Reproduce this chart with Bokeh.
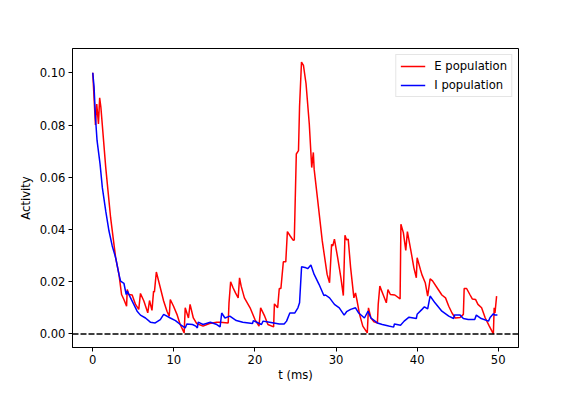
from bokeh.plotting import figure
from bokeh.models import Range1d, FixedTicker, PrintfTickFormatter, Span, Legend, LegendItem
from bokeh.embed import file_html
from bokeh.resources import INLINE

t_e = [0, 0.33, 0.49, 0.7, 0.85, 1.0, 1.6, 2.2, 2.82, 3.23, 3.55, 3.84, 4.17, 4.25, 4.45, 4.86,
       5.27, 5.67, 5.88, 6.3, 6.78, 7.0, 7.3, 7.5, 7.6, 7.84, 8.33, 8.74, 9.15, 9.43, 9.56, 9.96,
       10.38, 10.78, 11.27, 11.4, 11.8, 12.0, 12.4, 12.8, 13.6, 14.4, 15.3, 15.7, 16.7, 16.8, 17.0,
       17.3, 17.6, 17.93, 18.1, 18.3, 18.7, 19.4, 20.0, 20.5, 20.7, 21.2, 21.6, 22.3, 22.4, 22.8,
       23.0, 23.2, 23.5, 23.8, 24.0, 24.35, 24.7, 24.85, 25.1, 25.37, 25.5, 25.74, 25.98, 26.3,
       26.7, 27.0, 27.2, 27.3, 27.7, 28.3, 28.9, 29.2, 29.45, 29.6, 29.8, 30.2, 30.6, 30.9, 31.1,
       31.3, 31.5, 31.8, 32.2, 32.4, 32.6, 32.9, 33.3, 33.85, 34.0, 34.3, 34.7, 35.1, 35.2, 35.4,
       35.8, 36.2, 36.4, 36.7, 37.25, 37.9, 38.0, 38.3, 38.6, 38.8, 39.2, 39.6, 39.9, 40.0, 40.4,
       40.6, 41.0, 41.3, 41.6, 41.9, 42.6, 43.05, 43.5, 43.9, 44.3, 44.7, 45.3, 45.7, 45.8, 46.1,
       46.5, 46.8, 47.2, 47.5, 47.95, 48.4, 48.9, 49.4, 49.5, 49.6, 49.8]
e_vals = [0.100, 0.080, 0.088, 0.0804, 0.0904, 0.0868, 0.0637, 0.0445, 0.0292, 0.0228, 0.0151,
          0.0132, 0.0106, 0.0170, 0.0151, 0.0149, 0.0113, 0.0094, 0.0155, 0.0126, 0.0081, 0.0128,
          0.0090, 0.0164, 0.0160, 0.0237, 0.0177, 0.0126, 0.0087, 0.0068, 0.0132, 0.0106, 0.0075,
          0.0036, 0.0004, 0.0100, 0.0061, 0.0113, 0.0061, 0.0040, 0.0030, 0.0040, 0.0045, 0.0045,
          0.0042, 0.0119, 0.0200, 0.0177, 0.0157, 0.0138, 0.0215, 0.0183, 0.0138, 0.0100, 0.0055,
          0.0030, 0.0100, 0.0068, 0.0036, 0.0027, 0.0115, 0.0100, 0.0174, 0.0174, 0.0276, 0.0276,
          0.0392, 0.0375, 0.0359, 0.0360, 0.0689, 0.0702, 0.0871, 0.1041, 0.1028, 0.0958, 0.0804,
          0.0637, 0.0695, 0.0631, 0.0522, 0.0356, 0.0228, 0.0196, 0.0343, 0.0337, 0.0363, 0.0292,
          0.0215, 0.0147, 0.0378, 0.0360, 0.0363, 0.0253, 0.0138, 0.0157, 0.0126, 0.0075, 0.0030,
          0.0004, 0.0100, 0.0061, 0.0046, 0.0042, 0.0113, 0.0183, 0.0151, 0.0119, 0.0170, 0.0151,
          0.0149, 0.0134, 0.0420, 0.0388, 0.0320, 0.0392, 0.0324, 0.0253, 0.0215, 0.0292, 0.0247,
          0.0226, 0.0196, 0.0145, 0.0211, 0.0203, 0.0170, 0.0149, 0.0138, 0.0106, 0.0080, 0.0061,
          0.0063, 0.0075, 0.0174, 0.0174, 0.0151, 0.0134, 0.0132, 0.0113, 0.0100, 0.0061, 0.0030,
          0.0000, 0.0100, 0.0080, 0.0145]

t_i = [0, 0.16, 0.33, 0.53, 0.9, 1.18, 1.6, 2.0, 2.4, 2.82, 3.23, 3.43, 3.84, 4.12, 4.25, 5.06,
       5.47, 5.88, 6.5, 7.1, 7.7, 8.33, 8.74, 9.56, 10.2, 10.8, 11.4, 11.6, 12.3, 12.7, 12.9, 13.0,
       13.6, 14.5, 15.3, 15.7, 15.9, 16.3, 16.9, 17.7, 18.5, 19.7, 19.8, 20.8, 21.0, 21.8, 23.0,
       23.6, 23.9, 24.3, 24.9, 25.3, 25.5, 25.75, 26.3, 26.5, 26.9, 27.3, 27.9, 28.5, 28.7, 29.2,
       29.8, 30.4, 31.0, 31.3, 31.8, 32.4, 32.8, 33.5, 33.95, 34.3, 35.1, 35.7, 36.5, 37.1, 37.2,
       37.95, 38.4, 39.0, 39.9, 40.0, 40.6, 40.9, 41.3, 41.6, 42.2, 43.05, 43.9, 44.5, 44.6, 45.3,
       45.7, 46.3, 47.1, 47.3, 47.9, 48.8, 49.0, 49.4, 49.6, 49.9]
i_vals = [0.100, 0.0945, 0.083, 0.074, 0.065, 0.056, 0.047, 0.0394, 0.0337, 0.0292, 0.0228,
          0.0202, 0.0194, 0.0151, 0.0164, 0.0113, 0.0087, 0.0072, 0.0061, 0.0045, 0.0042, 0.0055,
          0.0075, 0.0061, 0.0051, 0.0036, 0.0023, 0.0038, 0.0036, 0.0030, 0.0023, 0.0045, 0.0036,
          0.0045, 0.0036, 0.0027, 0.0080, 0.0061, 0.0068, 0.0051, 0.0045, 0.0040, 0.0051, 0.0036,
          0.0049, 0.0045, 0.0038, 0.0038, 0.0049, 0.0080, 0.0080, 0.0100, 0.0119, 0.0257, 0.0253,
          0.0250, 0.0264, 0.0228, 0.0190, 0.0147, 0.0149, 0.0138, 0.0113, 0.0100, 0.0072, 0.0085,
          0.0094, 0.0100, 0.0080, 0.0061, 0.0087, 0.0061, 0.0042, 0.0036, 0.0030, 0.0026, 0.0038,
          0.0033, 0.0049, 0.0064, 0.0059, 0.0075, 0.0094, 0.0104, 0.0096, 0.0145, 0.0119, 0.0087,
          0.0068, 0.0059, 0.0072, 0.0072, 0.0059, 0.0055, 0.0055, 0.0072, 0.0059, 0.0049, 0.0063,
          0.0077, 0.0072, 0.0072]

x_ticks = [0, 10, 20, 30, 40, 50]
y_ticks = [0.0, 0.02, 0.04, 0.06, 0.08, 0.10]
labels = ["E population", "I population"]

FONT = "DejaVu Sans"
FS = "11.6px"

p = figure(width=570, height=390, output_backend="svg", toolbar_location=None,
           x_range=Range1d(-2.5, 52.5), y_range=Range1d(-0.0052, 0.1093),
           min_border_left=72, min_border_right=52, min_border_top=48, min_border_bottom=43)
p.grid.visible = False
p.outline_line_color = "black"
p.outline_line_width = 1
p.background_fill_color = "white"
p.border_fill_color = "white"

r_e = p.line(t_e, e_vals, line_color="#ff0000", line_width=1.5)
r_i = p.line(t_i, i_vals, line_color="#0000ff", line_width=1.5)
p.add_layout(Span(location=0, dimension="width", line_color="black", line_dash="6 2",
                  line_width=1.5))

for ax in (p.xaxis[0], p.yaxis[0]):
    ax.major_tick_out = 4
    ax.major_tick_in = 0
    ax.minor_tick_out = 0
    ax.minor_tick_in = 0
    ax.axis_line_color = "black"
    ax.major_tick_line_color = "black"
    ax.major_label_text_font = FONT
    ax.major_label_text_font_size = FS
    ax.major_label_text_color = "black"
    ax.axis_label_text_font = FONT
    ax.axis_label_text_font_size = FS
    ax.axis_label_text_font_style = "normal"
    ax.axis_label_text_color = "black"
    ax.major_label_standoff = 3

p.xaxis.ticker = FixedTicker(ticks=x_ticks)
p.xaxis.formatter = PrintfTickFormatter(format="%d")
p.xaxis.axis_label = "t (ms)"
p.xaxis.axis_label_standoff = 1
p.yaxis.ticker = FixedTicker(ticks=y_ticks)
p.yaxis.formatter = PrintfTickFormatter(format="%.2f")
p.yaxis.axis_label = "Activity"
p.yaxis.axis_label_standoff = 4

legend = Legend(items=[LegendItem(label=labels[0], renderers=[r_e]),
                       LegendItem(label=labels[1], renderers=[r_i])],
                location="top_right")
legend.margin = 6
legend.padding = 4
legend.spacing = 5
legend.glyph_width = 25
legend.glyph_height = 14
legend.label_height = 14
legend.label_standoff = 9
legend.label_text_font = FONT
legend.label_text_font_size = FS
legend.label_text_color = "black"
legend.border_line_color = "#cccccc"
legend.border_line_width = 1
legend.background_fill_alpha = 0.8
p.add_layout(legend)

open("out.html", "w").write(file_html(p, INLINE))
